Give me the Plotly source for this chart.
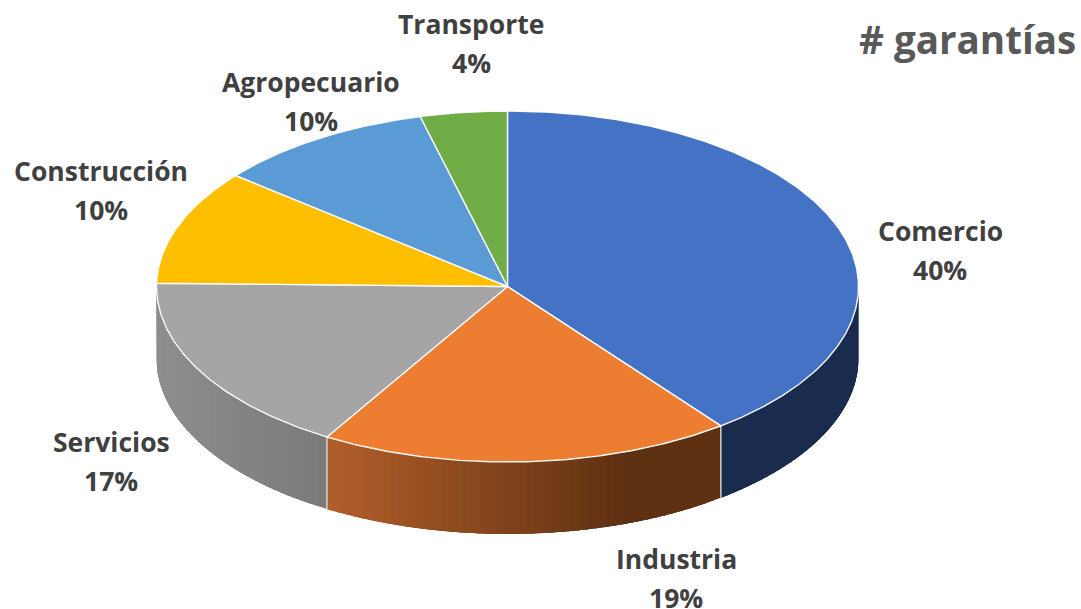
import math
import plotly.graph_objects as go

categories = ["Comercio", "Industria", "Servicios", "Construcción", "Agropecuario", "Transporte"]
shares = [39.6, 19.0, 16.7, 10.6, 10.1, 4.0]
percent_labels = ["40%", "19%", "17%", "10%", "10%", "4%"]
top_colors = ["#4472C4", "#ED7D31", "#A5A5A5", "#FDBF00", "#5B9BD5", "#70AD47"]
side_left = [(26, 44, 78), (178, 95, 42), (142, 142, 142), None, None, None]
side_right = [(26, 44, 78), (94, 48, 18), (122, 122, 122), None, None, None]
side_span = [1, 300, 170, 1, 1, 1]
label_x = [940, 676, 111, 101, 311, 471]
label_y = [231, 559, 442, 171, 82, 24]

CX, CY, RX, RY, DEPTH = 507.5, 286.5, 351, 175.5, 72
FONT = "Open Sans"
LABEL_SIZE = 26.5


def pt(deg, dy=0):
    r = math.radians(deg)
    return CX + RX * math.sin(r), CY - RY * math.cos(r) + dy


def arc(a, b, dy=0, step=1.0):
    n = max(2, int(abs(b - a) / step) + 1)
    return [pt(a + (b - a) * i / (n - 1), dy) for i in range(n)]


def poly(fig, points, fill, line_color, width):
    fig.add_trace(go.Scatter(
        x=[p[0] for p in points], y=[p[1] for p in points],
        mode="lines", fill="toself", fillcolor=fill,
        line=dict(color=line_color, width=width),
        hoverinfo="skip", showlegend=False))


total = sum(shares)
edges = [0.0]
for s in shares:
    edges.append(edges[-1] + s / total * 360)

fig = go.Figure()

# side walls: overlapping strips painted right to left, so no seams show
for i in range(len(shares)):
    a, b = max(edges[i], 90), min(edges[i + 1], 270)
    if side_left[i] is None or a >= b:
        continue
    x_left = min(pt(a)[0], pt(b)[0])
    deg = a
    while deg < b:
        nxt = min(deg + 1.5, b)
        xm = pt((deg + nxt) / 2)[0]
        f = min(max((xm - x_left) / side_span[i], 0), 1)
        c = [round(side_left[i][k] + (side_right[i][k] - side_left[i][k]) * f) for k in range(3)]
        col = f"rgb({c[0]},{c[1]},{c[2]})"
        end = min(deg + 5, b)
        poly(fig, arc(deg, end) + arc(end, deg, DEPTH), col, "rgba(0,0,0,0)", 0)
        deg = nxt

# seams between side walls
for e in edges[1:3]:
    x0, y0 = pt(e)
    x1, y1 = pt(e, DEPTH)
    fig.add_trace(go.Scatter(x=[x0, x1], y=[y0, y1], mode="lines",
                             line=dict(color="#D9D9D9", width=1.4),
                             hoverinfo="skip", showlegend=False))

# top faces
for i in range(len(shares)):
    pts = [(CX, CY)] + arc(edges[i], edges[i + 1], 0, 0.5) + [(CX, CY)]
    poly(fig, pts, top_colors[i], "rgba(255,255,255,0.95)", 1.4)

for name, pct, x, y in zip(categories, percent_labels, label_x, label_y):
    fig.add_annotation(x=x, y=y, text=f"<b>{name}</b>", showarrow=False,
                       font=dict(family=FONT, size=LABEL_SIZE, color="#404040"))
    fig.add_annotation(x=x, y=y + 39, text=f"<b>{pct}</b>", showarrow=False,
                       font=dict(family=FONT, size=LABEL_SIZE, color="#404040"))

fig.add_annotation(x=1078, y=39, xanchor="right", text="<b># garantías</b>", showarrow=False,
                   font=dict(family=FONT, size=38.6, color="#595959"))

fig.update_layout(
    width=1081, height=609, margin=dict(l=0, r=0, t=0, b=0),
    paper_bgcolor="white", plot_bgcolor="white", showlegend=False,
    xaxis=dict(range=[0, 1081], visible=False, fixedrange=True),
    yaxis=dict(range=[609, 0], visible=False, fixedrange=True),
)
fig.write_html("out.html", config={"displayModeBar": False},
               post_script="document.body.style.margin='0';document.body.style.overflow='hidden';")
